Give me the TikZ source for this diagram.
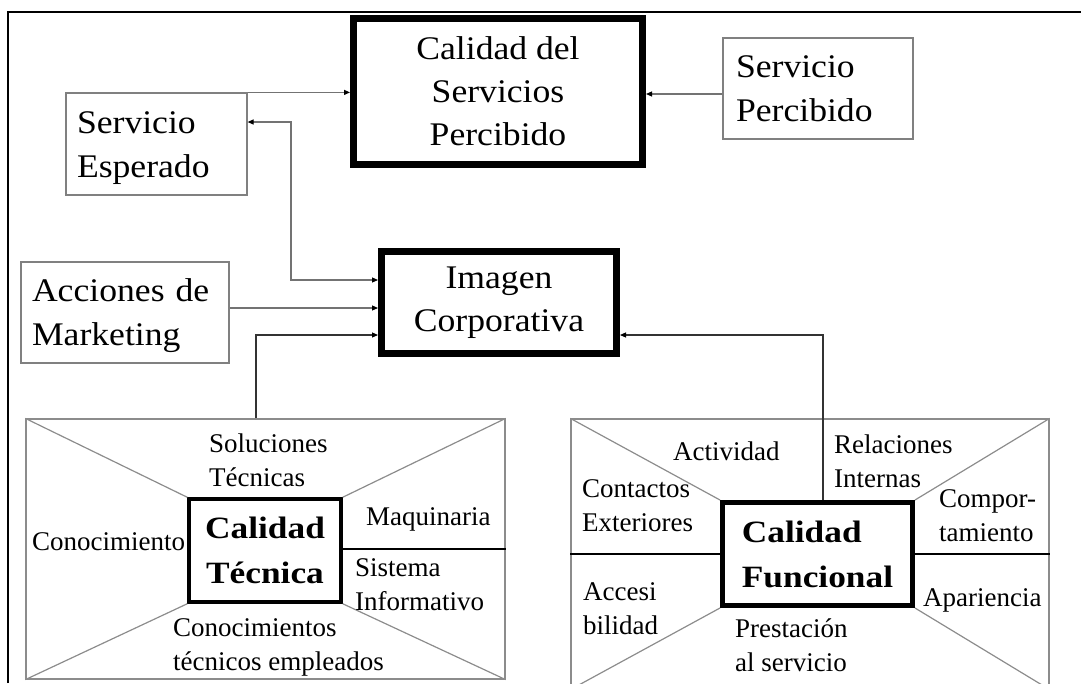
\documentclass[tikz,border=0pt]{standalone}
\usepackage{fontspec}
\setmainfont{Liberation Serif}
\newfontfamily\widefont{Liberation Serif}[FakeStretch=1.08]
\newfontfamily\wideboldfont{Liberation Serif}[FakeStretch=1.14]
\usetikzlibrary{arrows.meta}

\begin{document}
\begin{tikzpicture}[x=1pt, y=-1pt,
    >={Triangle[length=6pt,width=5pt,color=black]},
    conn/.style={draw=black!55, line width=1.1pt},
    thinbox/.style={draw=black!50, line width=1.2pt, inner xsep=11pt, inner ysep=0pt,
      align=left, font=\widefont\fontsize{33}{44}\selectfont},
    thickbox/.style={draw, line width=7pt, inner sep=0pt, align=center,
      font=\widefont\fontsize{33}{43}\selectfont},
    lowered/.style={execute at begin node={\rule{0pt}{#1}}},
    quality/.style={draw=black!45, line width=1.2pt},
    corebox/.style={draw, inner sep=0pt, font=\wideboldfont\bfseries\fontsize{31}{45}\selectfont},
    factor/.style={anchor=north west, inner sep=0pt, align=left,
      font=\fontsize{27}{33.5}\selectfont}]
    \useasboundingbox (0,0) rectangle (1081,683);
    \clip (0,0) rectangle (1081,683);

    % frame
    \draw[line width=2.5pt] (8,683) -- (8,12) -- (1081,12);

    % upper boxes
    \node[thickbox, lowered=27pt, minimum width=289pt, minimum height=146pt] (cal) at (498,91.5) {Calidad del\\Servicios\\Percibido};
    \node[thinbox, lowered=31pt, text width=159pt, minimum height=102pt] (esp) at (156.5,144) {Servicio\\Esperado};
    \node[thinbox, inner xsep=13pt, text width=164pt, minimum height=101pt] (per) at (818,88.5) {Servicio\\Percibido};
    \node[thinbox, lowered=30pt, text width=186pt, minimum height=101pt] (acc) at (125,312.5) {Acciones de\\Marketing};
    \node[thickbox, lowered=31pt, minimum width=235pt, minimum height=102pt] (img) at (499,302.5) {Imagen\\Corporativa};

    % technical quality
    \node[quality, minimum width=479pt, minimum height=260pt] (tec) at (265.5,549) {};
    \node[corebox, line width=3.5pt, align=center, minimum width=152pt, minimum height=103pt] (tecin) at (265,550.5) {Calidad\\Técnica};
    \draw[quality] (tec.north west) -- (tecin.north west);
    \draw[quality] (tec.north east) -- (tecin.north east);
    \draw[quality] (tec.south west) -- (tecin.south west);
    \draw[quality] (tec.south east) -- (tecin.south east);
    \draw[line width=1.2pt] (tecin.east |- tec.east) -- (tec.east);

    \node[factor] (sol) at (209,433.6) {Soluciones\\Técnicas};
    \node[factor] (maq) at (366,507.6) {Maquinaria};
    \node[factor] (con) at (32,532.6) {Conocimiento};
    \node[factor] (sis) at (355,558.6) {Sistema\\Informativo};
    \node[factor] (emp) at (173,618.6) {Conocimientos\\técnicos empleados};

    % functional quality
    \node[quality, minimum width=478pt, minimum height=270pt] (fun) at (810,554) {};
    \node[corebox, line width=5pt, align=left, minimum width=190pt, minimum height=103pt] (funin) at (817.5,554) {Calidad\\Funcional};
    \draw[quality] (fun.north west) -- (funin.north west);
    \draw[quality] (fun.north east) -- (funin.north east);
    \draw[quality] (fun.south west) -- (funin.south west);
    \draw[quality] (fun.south east) -- (funin.south east);
    \draw[line width=1.2pt] (fun.west) -- (funin.west);
    \draw[line width=1.2pt] (funin.east) -- (fun.east);

    \node[factor] (act) at (673,441.6) {Actividad};
    \node[factor] (rel) at (834,434.6) {Relaciones\\Internas};
    \node[factor] (ext) at (582,479.6) {Contactos\\Exteriores};
    \node[factor] (com) at (939,489.6) {Compor-\\tamiento};
    \node[factor] (acs) at (583,582.6) {Accesi\\bilidad};
    \node[factor] (apa) at (923,588.6) {Apariencia};
    \node[factor] (pre) at (735,618.6) {Prestación\\al servicio};

    % connectors
    \coordinate (bend) at (291,200);
    \draw[conn,->] (esp.north east) to (esp.north east -| cal.west);
    \draw[conn,->] ([yshift=-5.5pt]per.west) to ([yshift=-5.5pt]per.west -| cal.east);
    \draw[conn,<->] ([yshift=22pt]esp.east) -| (bend) |- ([yshift=22.5pt]img.west);
    \draw[conn,->] ([yshift=4.5pt]acc.east) to ([yshift=4.5pt]acc.east -| img.west);
    \draw[conn,draw=black!80,->] ([xshift=-9.5pt]tec.north) |- ([yshift=-32.5pt]img.west);
    \draw[conn,draw=black!80,->] ([xshift=5.5pt]funin.north) |- ([yshift=-32.5pt]img.east);
\end{tikzpicture}
\end{document}
